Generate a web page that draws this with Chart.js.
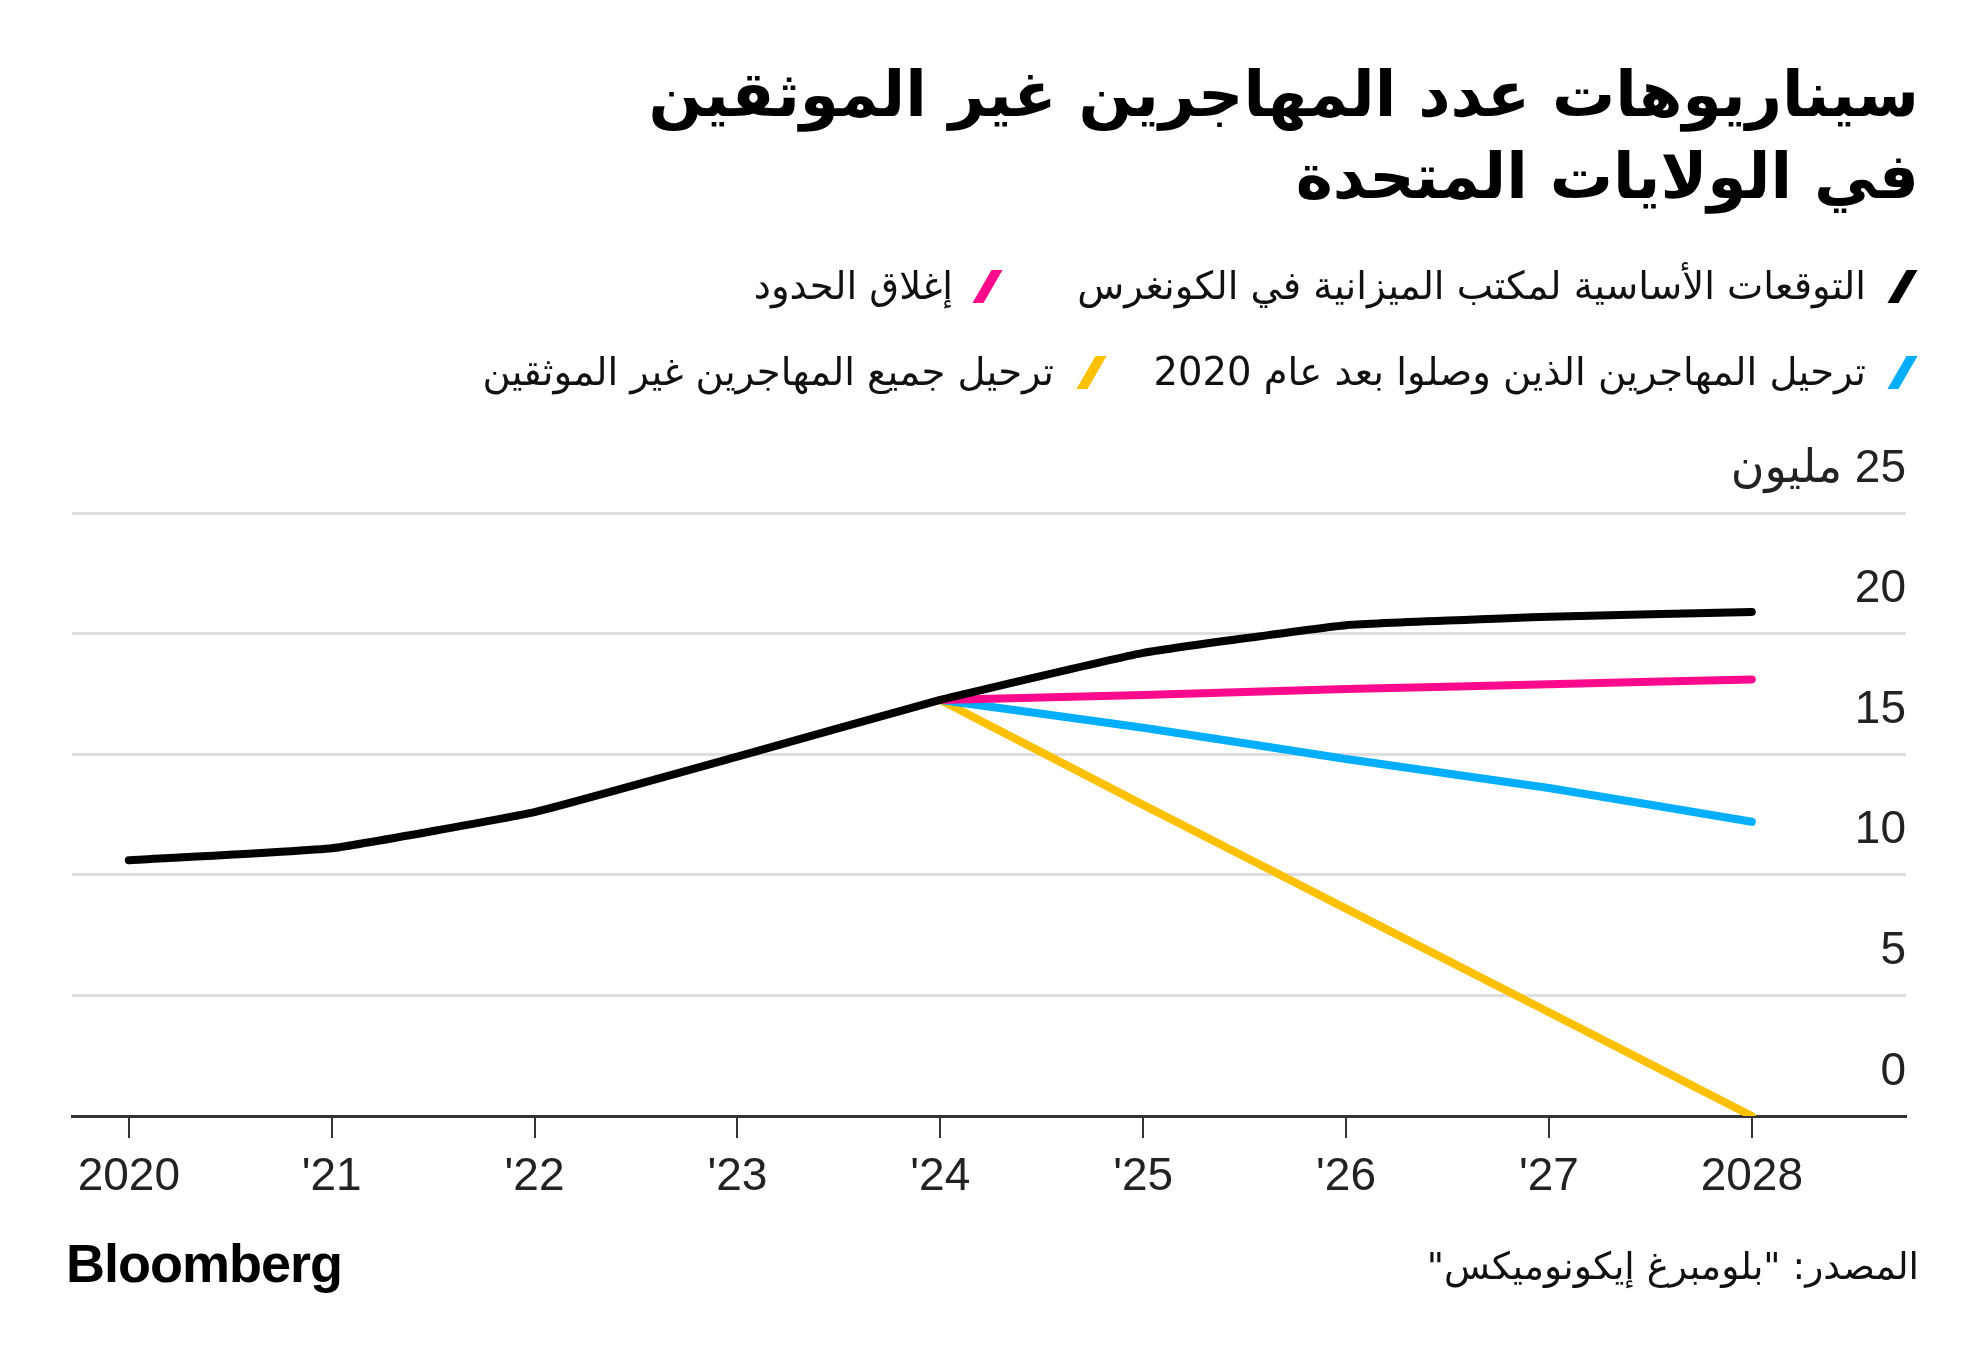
<!DOCTYPE html>
<html>
<head>
<meta charset="utf-8">
<script src="https://cdn.jsdelivr.net/npm/chart.js@4.4.1/dist/chart.umd.min.js"></script>
<style>
html, body { margin: 0; padding: 0; background: #fff; }
#wrap { position: relative; width: 1986px; height: 1360px; overflow: hidden; }
#chart { position: absolute; left: 0; top: 0; }
.ar { position: absolute; font-family: "DejaVu Sans", sans-serif; direction: rtl; white-space: nowrap; color: #111; }
.title { right: 67px; font-size: 63px; font-weight: bold; line-height: 82px; color: #000; }
.leg { font-size: 38.5px; line-height: 50px; }
.mk { position: absolute; width: 11px; height: 33px; transform: skewX(-30deg); }
#logo { position: absolute; left: 66px; top: 1233px; font-family: "Liberation Sans", Arial, sans-serif;
        font-weight: bold; font-size: 54px; line-height: 60px; letter-spacing: -1px; color: #000; }
</style>
</head>
<body>
<div id="wrap">
  <canvas id="chart" width="1986" height="1360"></canvas>

  <div class="ar title" style="top:54px">سيناريوهات عدد المهاجرين غير الموثقين</div>
  <div class="ar title" style="top:136px">في الولايات المتحدة</div>

  <div class="mk" style="left:1897px; top:270px; background:#000"></div>
  <div class="ar leg" style="right:120px; top:261px">التوقعات الأساسية لمكتب الميزانية في الكونغرس</div>
  <div class="mk" style="left:982px; top:270px; background:#ff0a8c"></div>
  <div class="ar leg" style="right:1033px; top:261px">إغلاق الحدود</div>

  <div class="mk" style="left:1897px; top:356px; background:#00aeff"></div>
  <div class="ar leg" style="right:120px; top:347px">ترحيل المهاجرين الذين وصلوا بعد عام 2020</div>
  <div class="mk" style="left:1086px; top:356px; background:#ffc000"></div>
  <div class="ar leg" style="right:932px; top:347px">ترحيل جميع المهاجرين غير الموثقين</div>

  <div id="logo">Bloomberg</div>
  <div class="ar leg" style="right:67px; top:1241px; font-size:37.5px">المصدر: "بلومبرغ إيكونوميكس"</div>
</div>

<script>
const years = [2020, 2021, 2022, 2023, 2024, 2025, 2026, 2027, 2028];
const xLabels = ['2020', "'21", "'22", "'23", "'24", "'25", "'26", "'27", '2028'];
const yTicks = [0, 5, 10, 15, 20, 25];
const yLabels = ['0', '5', '10', '15', '20', '\u202B25 مليون\u202C'];

// ملايين
const cboBaseline = [10.6, 11.1, 12.6, 14.9, 17.25, 19.2, 20.35, 20.7, 20.9];
const borderClosed = [null, null, null, null, 17.25, 17.45, 17.7, 17.9, 18.1];
const deportPost2020 = [null, null, null, null, 17.25, 16.1, 14.8, 13.6, 12.2];
const deportAll = [null, null, null, null, 17.25, 12.9, 8.6, 4.3, 0];

const pts = (arr) => arr.map((v, i) => ({ x: years[i], y: v }));

const line = (data, color) => ({
    data: pts(data),
    borderColor: color,
    borderWidth: 8,
    borderCapStyle: 'round',
    borderJoinStyle: 'round',
    pointRadius: 0,
    tension: 0.1,
    spanGaps: false,
    fill: false
});

const ctx = document.getElementById('chart').getContext('2d');
new Chart(ctx, {
    type: 'line',
    data: {
        datasets: [
            line(cboBaseline, '#000000'),
            line(borderClosed, '#ff0a8c'),
            line(deportPost2020, '#00aeff'),
            line(deportAll, '#ffc000')
        ]
    },
    options: {
        responsive: false,
        animation: false,
        devicePixelRatio: 1,
        layout: { padding: { left: 72, right: 80, top: 513, bottom: 144 } },
        plugins: { legend: { display: false }, tooltip: { enabled: false } },
        scales: {
            x: {
                type: 'linear',
                min: 2019.72,
                max: 2028.76,
                afterBuildTicks: (axis) => { axis.ticks = years.map(v => ({ value: v })); },
                afterFit: (axis) => { axis.height = 100; },
                border: { color: '#333', width: 3 },
                grid: { drawOnChartArea: false, drawTicks: true, tickLength: 22, color: '#333', lineWidth: 2 },
                ticks: {
                    autoSkip: false,
                    maxRotation: 0,
                    padding: 12,
                    color: '#222',
                    font: { family: 'Liberation Sans, Arial, sans-serif', size: 46 },
                    callback: (v) => xLabels[years.indexOf(v)]
                }
            },
            y: {
                position: 'right',
                min: 0,
                max: 25,
                afterBuildTicks: (axis) => { axis.ticks = yTicks.map(v => ({ value: v })); },
                afterFit: (axis) => { axis.width = 0; },
                border: { display: false },
                grid: { color: '#dedede', lineWidth: 3, drawTicks: false },
                ticks: {
                    mirror: true,
                    padding: 0,
                    labelOffset: -44,
                    autoSkip: false,
                    color: '#222',
                    font: { family: 'Liberation Sans, DejaVu Sans, sans-serif', size: 46 },
                    callback: (v) => yLabels[yTicks.indexOf(v)]
                }
            }
        }
    }
});
</script>
</body>
</html>
